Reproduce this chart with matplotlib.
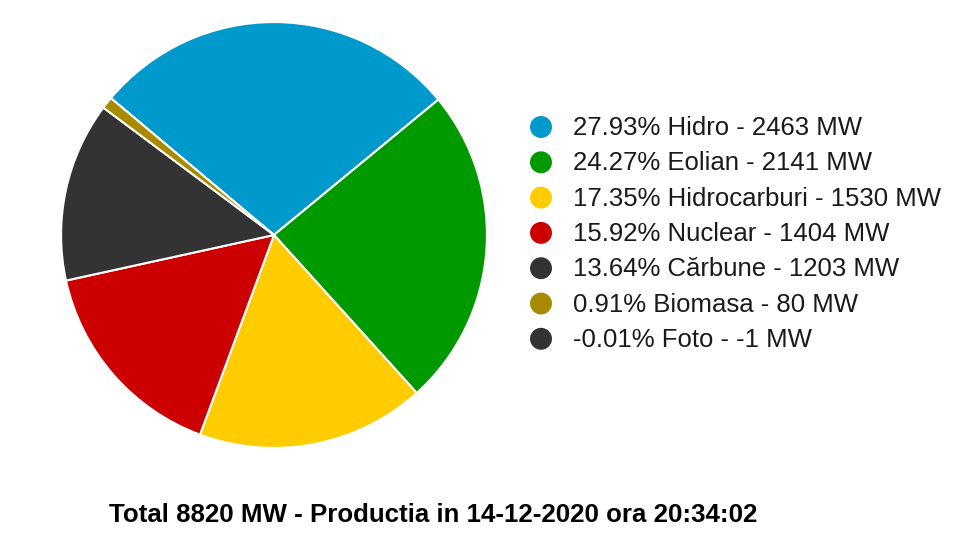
import matplotlib
matplotlib.use("Agg")
import matplotlib.pyplot as plt

# production by source (MW), 14-12-2020 20:34:02
sources = ["Hidro", "Eolian", "Hidrocarburi", "Nuclear", "Cărbune", "Biomasa", "Foto"]
mw = [2463, 2141, 1530, 1404, 1203, 80, -1]
percents = [27.93, 24.27, 17.35, 15.92, 13.64, 0.91, -0.01]
colors = ["#0099cc", "#009900", "#ffcc00", "#cc0000", "#333333", "#a88a00", "#333333"]
total = 8820
timestamp = "14-12-2020 ora 20:34:02"

plt.rcParams["font.family"] = ["Liberation Sans", "DejaVu Sans"]

W, H = 970, 546
fig = plt.figure(figsize=(W / 100, H / 100), dpi=100)

# pie (negative values can't be drawn as slices)
cx, cy, r = 274, 235, 214
ax = fig.add_axes([(cx - r) / W, (H - cy - r) / H, 2 * r / W, 2 * r / H])
pos = [(v, c) for v, c in zip(mw, colors) if v > 0]
ax.pie([v for v, _ in pos], colors=[c for _, c in pos], startangle=140,
       counterclock=False, radius=1,
       wedgeprops=dict(edgecolor="white", linewidth=1.5))
ax.set_xlim(-1.005, 1.005)
ax.set_ylim(-1.005, 1.005)
ax.set_aspect("equal")
ax.axis("off")

# legend on an overlay in pixel coords
ov = fig.add_axes([0, 0, 1, 1])
ov.set_xlim(0, W)
ov.set_ylim(H, 0)
ov.axis("off")
y0, dy = 127, 35.3
for i, (s, v, p, c) in enumerate(zip(sources, mw, percents, colors)):
    y = y0 + i * dy
    ov.scatter([541], [y], s=250, color=c, edgecolors="none")
    ov.text(573, y + 1, f"{p:.2f}% {s} - {v} MW", fontsize=18.5, va="center",
            ha="left", color="#1a1a1a")

ov.text(433, 515, f"Total {total} MW - Productia in {timestamp}",
        fontsize=18.6, fontweight="bold", ha="center", va="center",
        color="black")

fig.savefig("out.png", dpi=100)
